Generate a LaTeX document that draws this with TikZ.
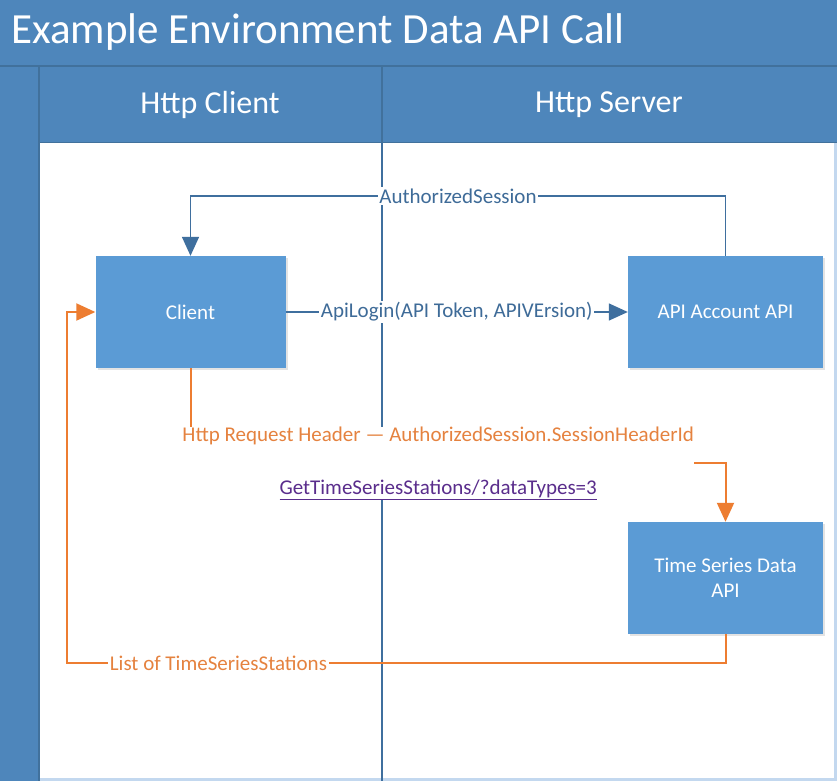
\documentclass[tikz,border=0pt]{standalone}
\usepackage{fontspec}
\setmainfont{Carlito}
\usetikzlibrary{arrows.meta,shadows}
\definecolor{band}{HTML}{4E86BB}
\definecolor{bandline}{HTML}{41719C}
\definecolor{boxfill}{HTML}{5B9BD5}
\definecolor{laneline}{HTML}{3F6F9E}
\definecolor{bluetxt}{HTML}{3E6B98}
\definecolor{orangeline}{HTML}{ED7D31}
\definecolor{orangetxt}{HTML}{E5823F}
\definecolor{linktxt}{HTML}{5A2D8C}
\definecolor{edgeblue}{HTML}{C3D8EF}
\tikzset{
  apibox/.style={draw=none, fill=boxfill, text=white, minimum width=190pt,
    minimum height=112pt, align=center, font=\fontsize{21}{25}\selectfont,
    drop shadow={shadow xshift=2pt, shadow yshift=-2pt, opacity=0.18, fill=black!60}},
  blueflow/.style={draw=laneline, line width=1.5pt},
  orangeflow/.style={draw=orangeline, line width=2pt},
  tipblue/.style={-{Triangle[length=19pt,width=17pt]}},
  tiporange/.style={-{Triangle[length=19pt,width=17pt]}},
  flowlabel/.style={fill=white, inner sep=1.5pt, font=\fontsize{21}{25}\selectfont},
  headtext/.style={text=white, font=\fontsize{32}{36}\selectfont},
}
\begin{document}
\begin{tikzpicture}[x=1pt,y=-1pt]
\useasboundingbox (0,0) rectangle (837,781);
% bands and lanes
\fill[band] (0,0) rectangle (837,781);
\fill[white] (40,143) rectangle (837,781);
\draw[edgeblue, line width=3pt] (835.5,143) -- (835.5,779.5) -- (40,779.5);
\draw[bandline, line width=2pt] (0,66) -- (837,66);
\draw[bandline, line width=1.5pt] (39,67) -- (39,781);
\draw[bandline, line width=1.5pt] (40,142.5) -- (837,142.5);
\draw[bandline, line width=1.2pt] (382,67) -- (382,143);
\draw[laneline, line width=1.5pt] (382,143) -- (382,781);
\node[anchor=west, text=white, font=\fontsize{43}{48}\selectfont] (title) at (8,32) {Example Environment Data API Call};
\node[headtext] (hclient) at (210,105) {Http Client};
\node[headtext] (hserver) at (609,105) {Http Server};
% process boxes
\node[apibox] (client) at (190.5,312) {Client};
\node[apibox, minimum width=195pt] (acct) at (725.5,312) {API Account API};
\node[apibox, minimum width=195pt] (ts) at (725.5,578) {Time Series Data\\API};
% helper coordinates for connector bends
\coordinate (sessY) at (0,196);
\coordinate (reqY) at (0,463);
\coordinate (listY) at (0,663);
\coordinate (loopX) at (67,0);
% connectors
\draw[blueflow, tipblue] (acct.north) |- node[flowlabel, text=bluetxt, pos=0.75] {AuthorizedSession} (client.north |- sessY) -- (client.north);
\draw[blueflow, tipblue] (client.east) -- node[flowlabel, text=bluetxt, pos=0.5] {ApiLogin(API Token, APIVErsion)} (acct.west);
\draw[orangeflow, tiporange] (client.south) -- (client.south |- reqY)
  -- node[fill=white, inner sep=0pt, align=center, pos=0.463,
          font=\fontsize{21}{26.5}\selectfont]
     {\textcolor{orangetxt}{Http Request Header — AuthorizedSession.SessionHeaderId}\\[0pt]
      \strut\\
      \textcolor{linktxt}{\underline{GetTimeSeriesStations/?dataTypes=3}}}
  (ts.north |- reqY) -- (ts.north);
\draw[orangeflow, tiporange] (ts.south) -- (ts.south |- listY)
  -- node[flowlabel, text=orangetxt, pos=0.77] {List of TimeSeriesStations} (loopX |- listY)
  -- (loopX |- client.west) -- (client.west);
\end{tikzpicture}
\end{document}
